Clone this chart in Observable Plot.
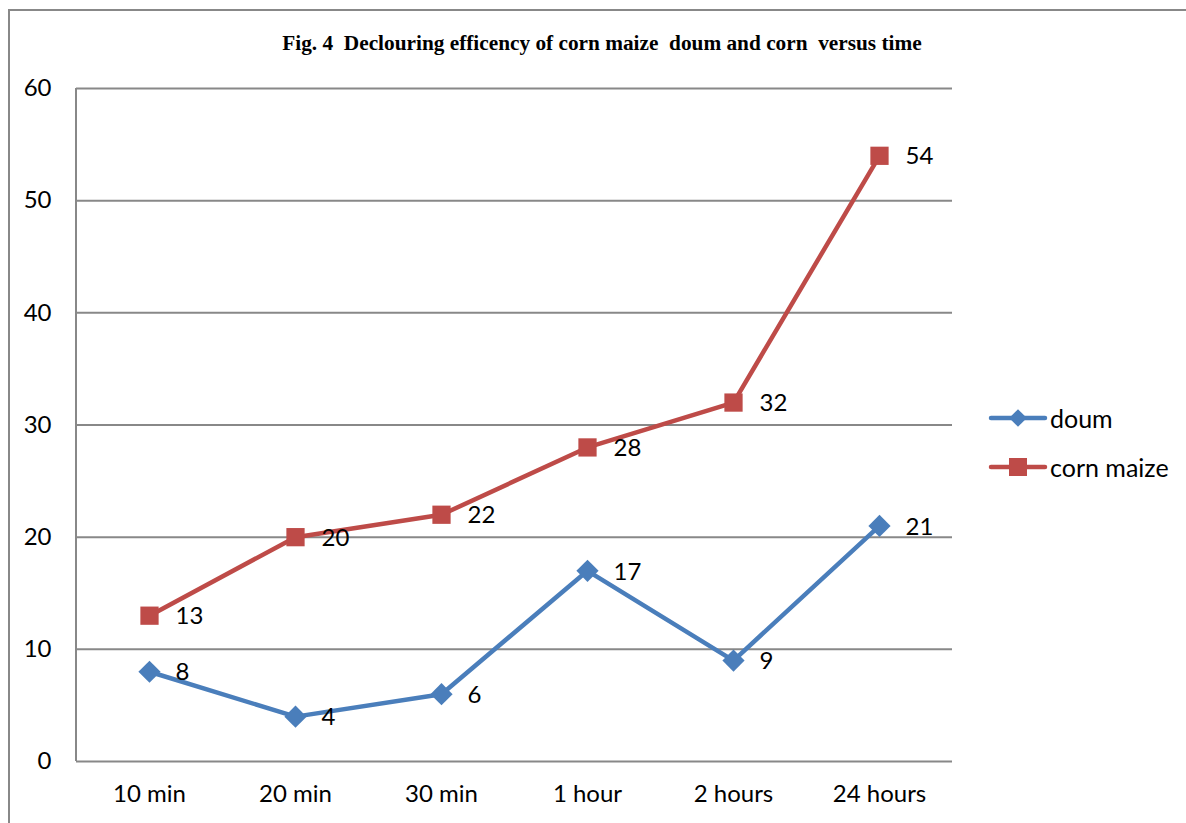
<!DOCTYPE html>
<html>
<head>
<meta charset="utf-8">
<script src="https://cdn.jsdelivr.net/npm/d3@7"></script>
<script src="https://cdn.jsdelivr.net/npm/@observablehq/plot@0.6"></script>
<style>
  html, body { margin: 0; padding: 0; background: #fff; }
  #wrap { position: relative; width: 1186px; height: 823px; overflow: hidden; }
  #border { position: absolute; left: 8px; top: 9px; width: 1300px; height: 1000px; border: 2px solid #888; box-sizing: border-box; }
  #title { position: absolute; left: 0; width: 1204px; top: 31px; text-align: center; font-family: "Liberation Serif", serif; font-weight: bold; font-size: 21.3px; white-space: pre; color: #000; }
  #chart { position: absolute; left: 0; top: 0; }
  #legend { position: absolute; left: 988px; top: 393px; font-family: Lato, sans-serif; font-size: 25px; }
</style>
</head>
<body>
<div id="wrap">
  <div id="border"></div>
  <div id="chart"></div>
  <div id="title">Fig. 4  Declouring efficency of corn maize  doum and corn  versus time</div>
  <div id="legend"></div>
</div>
<script>
const categories = ["10 min", "20 min", "30 min", "1 hour", "2 hours", "24 hours"];
const doum = [8, 4, 6, 17, 9, 21];
const cornMaize = [13, 20, 22, 28, 32, 54];
const seriesNames = ["doum", "corn maize"];
const seriesColors = ["#4A7EBB", "#BE4B48"];
const yTicks = [0, 10, 20, 30, 40, 50, 60];

const data = [];
categories.forEach((c, i) => {
  data.push({time: c, value: doum[i], series: seriesNames[0]});
  data.push({time: c, value: cornMaize[i], series: seriesNames[1]});
});
const dDoum = data.filter(d => d.series === "doum");
const dCorn = data.filter(d => d.series === "corn maize");

const fontFam = "Lato, sans-serif";

const leftAxisLine = (index, scales, values, dims) => {
  const g = d3.create("svg:line")
    .attr("x1", dims.marginLeft).attr("x2", dims.marginLeft)
    .attr("y1", dims.marginTop).attr("y2", dims.height - dims.marginBottom)
    .attr("stroke", "#888").attr("stroke-width", 2);
  return g.node();
};

const plot = Plot.plot({
  width: 1186,
  height: 823,
  marginLeft: 76,
  marginRight: 234,
  marginTop: 88,
  marginBottom: 62,
  style: {fontFamily: fontFam, fontSize: "24px", color: "#000", background: "transparent"},
  x: {type: "point", domain: categories, padding: 0.5, label: null},
  y: {domain: [0, 60], label: null},
  marks: [
    Plot.ruleY(yTicks, {stroke: "#888", strokeWidth: 2}),
    leftAxisLine,
    Plot.axisY({ticks: yTicks, tickSize: 0, tickPadding: 25, label: null, fontSize: 24}),
    Plot.axisX({tickSize: 0, tickPadding: 23, label: null, fontSize: 24}),
    Plot.line(dCorn, {x: "time", y: "value", stroke: seriesColors[1], strokeWidth: 4.5}),
    Plot.line(dDoum, {x: "time", y: "value", stroke: seriesColors[0], strokeWidth: 4.5}),
    Plot.dot(dCorn, {x: "time", y: "value", symbol: "square", r: 10.3, fill: seriesColors[1], stroke: null}),
    Plot.dot(dDoum, {x: "time", y: "value", symbol: "diamond2", r: 10, fill: seriesColors[0], stroke: null}),
    Plot.text(data, {x: "time", y: "value", text: d => String(d.value), textAnchor: "start", dx: 26, dy: 1, fontSize: 24, fill: "#000"})
  ]
});
document.getElementById("chart").appendChild(plot);

// legend
const leg = d3.select("#legend");
const symFns = [d3.symbol(d3.symbolDiamond2, 200), d3.symbol(d3.symbolSquare, 324)];
seriesNames.forEach((name, i) => {
  const row = leg.append("div").style("display", "flex").style("align-items", "center").style("height", "49px");
  const s = row.append("svg").attr("width", 60).attr("height", 30);
  s.append("line").attr("x1", 3).attr("x2", 57).attr("y1", 15).attr("y2", 15)
    .attr("stroke", seriesColors[i]).attr("stroke-width", 4.5).attr("stroke-linecap", "round");
  s.append("path").attr("d", symFns[i]()).attr("transform", "translate(30,15)").attr("fill", seriesColors[i]);
  row.append("span").text(name).style("margin-left", "2px");
});
</script>
</body>
</html>
